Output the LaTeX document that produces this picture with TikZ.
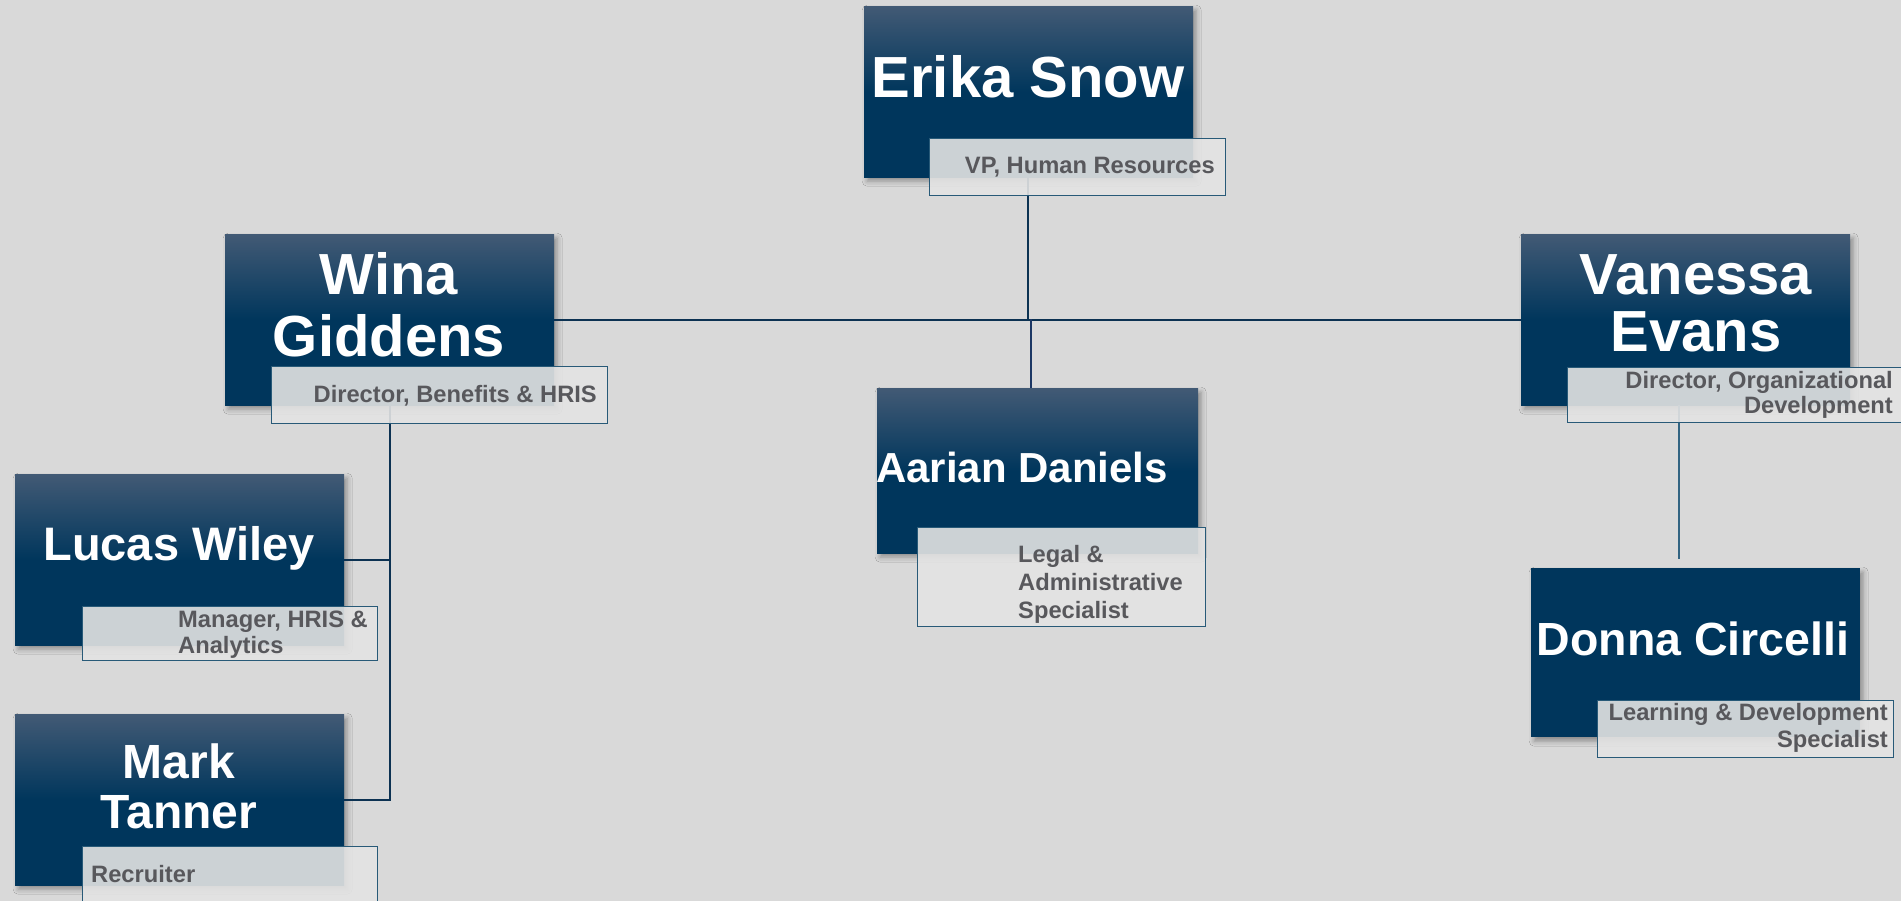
\documentclass[tikz,border=0pt]{standalone}
\usepackage{fontspec}
\setmainfont{Liberation Sans}
\usetikzlibrary{shadows.blur}
\definecolor{bg}{RGB}{217,217,217}
\definecolor{dk}{RGB}{0,54,92}
\definecolor{lt}{RGB}{66,90,117}
\definecolor{ttl}{RGB}{88,88,92}
\definecolor{tfill}{RGB}{227,227,227}
\definecolor{tborder}{RGB}{40,90,120}
\definecolor{conn}{RGB}{12,50,82}
\definecolor{connb}{RGB}{28,55,100}
\definecolor{connl}{RGB}{50,100,130}
\pgfdeclareverticalshading{boxshade}{100bp}{color(0bp)=(dk); color(25bp)=(dk); color(50bp)=(dk); color(75bp)=(lt); color(100bp)=(lt)}
\tikzset{
  boxbase/.style={draw=none, minimum width=329pt, minimum height=171pt,
    anchor=north west, inner sep=0pt,
    blur shadow={shadow xshift=3pt, shadow yshift=-4pt, shadow blur radius=5pt, shadow opacity=35}},
  namebox/.style={boxbase, shading=boxshade},
  flatbox/.style={boxbase, fill=dk},
  titlebox/.style={draw=tborder, line width=1.2pt, fill=tfill, fill opacity=0.9,
    anchor=north west, inner sep=0pt},
  nametext/.style={text=white, inner sep=0pt, anchor=base},
  titletext/.style={text=ttl, font=\fontsize{23.7}{27}\selectfont\bfseries, inner sep=0pt},
  link/.style={draw=conn, line width=2pt},
}
\begin{document}
\begin{tikzpicture}[x=1pt,y=-1pt]
\useasboundingbox (0,0) rectangle (1901,901);
\clip (0,0) rectangle (1901,901);
\fill[bg] (0,0) rectangle (1901,901);

\coordinate (hub) at (1028,319.5);
\coordinate (hubb) at (1031,319.5);
\coordinate (vend) at (1679,559);

% name boxes
\node[namebox] (erika) at (864,6) {};
\node[namebox] (wina) at (225,234) {};
\node[namebox] (lucas) at (15,474) {};
\node[namebox] (mark) at (15,714) {};
\node[namebox, minimum width=321pt, minimum height=165pt] (aarian) at (877,388) {};
\node[namebox] (vanessa) at (1521,234) {};
\node[flatbox, minimum height=169pt] (donna) at (1531,568) {};

% connectors
\draw[link] (erika.south -| hub) -- (hub);
\draw[link] (wina.east) -- (vanessa.west);
\draw[link, draw=connb, line width=2.6pt] (hubb) -- (hubb |- aarian.north);
\draw[link] (wina.south) |- (mark.east);
\draw[link] (lucas.east) -- (lucas.east -| wina.south);
\draw[draw=connl, line width=1.3pt] (vanessa.south -| vend) -- (vend);

% title boxes
\node[titlebox, minimum width=296pt, minimum height=57pt] (erikat) at (929,138) {};
\node[titlebox, minimum width=336pt, minimum height=57pt] (winat) at (271,366) {};
\node[titlebox, minimum width=295pt, minimum height=54pt] (lucast) at (82,606) {};
\node[titlebox, minimum width=295pt, minimum height=70pt] (markt) at (82,846) {};
\node[titlebox, minimum width=288pt, minimum height=99pt] (aariant) at (917,527) {};
\node[titlebox, minimum width=350pt, minimum height=55pt] (vanessat) at (1567,367) {};
\node[titlebox, minimum width=296pt, minimum height=57pt] (donnat) at (1597,700) {};

% names
\node[nametext, font=\fontsize{58}{62}\selectfont\bfseries] (erikan) at (1028,98) {Erika Snow};
\node[nametext, font=\fontsize{58}{62}\selectfont\bfseries] (winan1) at (389,295) {Wina};
\node[nametext, font=\fontsize{58}{62}\selectfont\bfseries] (winan2) at (389,356) {Giddens};
\node[nametext, font=\fontsize{47}{50}\selectfont\bfseries] (lucasn) at (179,560) {Lucas Wiley};
\node[nametext, font=\fontsize{48}{50}\selectfont\bfseries] (markn1) at (179,778) {Mark};
\node[nametext, font=\fontsize{48}{50}\selectfont\bfseries] (markn2) at (179,828) {Tanner};
\node[nametext, anchor=base west, font=\fontsize{42}{46}\selectfont\bfseries] (aariann) at (876,482) {Aarian Daniels};
\node[nametext, font=\fontsize{58}{62}\selectfont\bfseries] (vanessan1) at (1696,295) {Vanessa};
\node[nametext, font=\fontsize{58}{62}\selectfont\bfseries] (vanessan2) at (1696,352) {Evans};
\node[nametext, font=\fontsize{46.5}{50}\selectfont\bfseries] (donnan) at (1693,655) {Donna Circelli};

% titles
\node[titletext, anchor=base east] (erikatt) at (1215,174) {VP, Human Resources};
\node[titletext, anchor=base east] (winatt) at (597,402) {Director, Benefits \& HRIS};
\node[titletext, anchor=base west] (lucastt1) at (178,627) {Manager, HRIS \&};
\node[titletext, anchor=base west] (lucastt2) at (178,653) {Analytics};
\node[titletext, anchor=base west] (marktt) at (91,882) {Recruiter};
\node[titletext, anchor=base west] (aariantt1) at (1018,562) {Legal \&};
\node[titletext, anchor=base west] (aariantt2) at (1018,590) {Administrative};
\node[titletext, anchor=base west] (aariantt3) at (1018,618) {Specialist};
\node[titletext, anchor=base east] (vanessatt1) at (1893,388) {Director, Organizational};
\node[titletext, anchor=base east] (vanessatt2) at (1893,413) {Development};
\node[titletext, anchor=base east] (donnatt1) at (1888,720) {Learning \& Development};
\node[titletext, anchor=base east] (donnatt2) at (1888,747) {Specialist};
\end{tikzpicture}
\end{document}
